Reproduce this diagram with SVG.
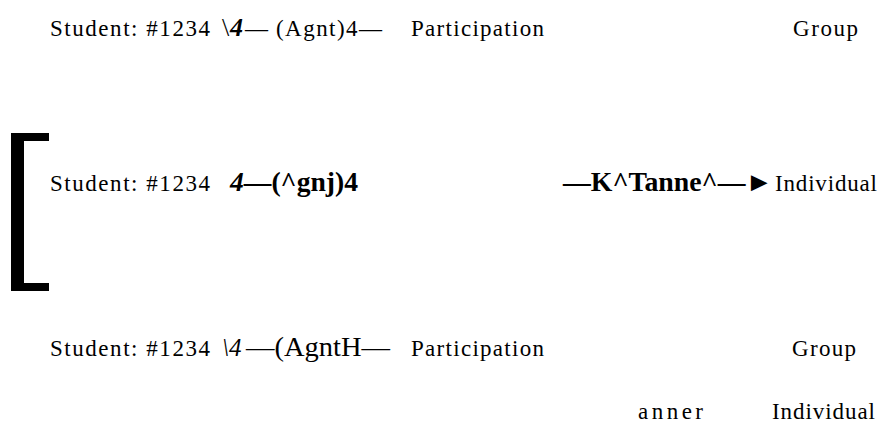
<svg xmlns="http://www.w3.org/2000/svg" width="880" height="431" viewBox="0 0 880 431">
<style>
text{font-family:"Liberation Serif","Times New Roman",serif;fill:#000;}
.t{font-size:23px;}
.big{font-size:28px;}
.b{font-weight:bold;}
.i{font-style:italic;}
</style>
<rect width="880" height="431" fill="#fff"/>
<g id="bracket">
<path d="M11,133 H49 V141 H24 V283 H49 V291 H11 Z" fill="#000"/>
</g>
<g id="row1">
<text class="t" x="50" y="36" textLength="160" lengthAdjust="spacing">Student: #1234</text>
<text x="222" y="36" font-size="26">\</text>
<text class="b i" x="230" y="36" font-size="26">4</text>
<text class="t" x="245" y="36" textLength="23" lengthAdjust="spacingAndGlyphs">—</text>
<text class="t" x="276" y="36" textLength="106" lengthAdjust="spacing">(Agnt)4—</text>
<text class="t" x="411" y="36" textLength="133" lengthAdjust="spacing">Participation</text>
<text class="t" x="793" y="36" textLength="65" lengthAdjust="spacing">Group</text>
</g>
<g id="row2">
<text class="t" x="50" y="191" textLength="160" lengthAdjust="spacing">Student: #1234</text>
<text class="b" x="230" y="191" font-size="27" textLength="128" lengthAdjust="spacingAndGlyphs"><tspan class="i">4</tspan>—(^gnj)4</text>
<text class="b" x="563" y="191" font-size="27" textLength="210" lengthAdjust="spacingAndGlyphs">—K^Tanne^—►</text>
<text class="t" x="775" y="191" textLength="102" lengthAdjust="spacing">Individual</text>
</g>
<g id="row3">
<text class="t" x="50" y="356" textLength="160" lengthAdjust="spacing">Student: #1234</text>
<text class="i" x="222" y="356" font-size="25">\4</text>
<text class="big" x="246" y="356" textLength="144" lengthAdjust="spacingAndGlyphs">—(AgntH—</text>
<text class="t" x="411" y="356" textLength="133" lengthAdjust="spacing">Participation</text>
<text class="t" x="792" y="356" textLength="64" lengthAdjust="spacing">Group</text>
</g>
<g id="row4">
<text class="t" x="638" y="419" textLength="65" lengthAdjust="spacing">anner</text>
<text class="t" x="772" y="419" textLength="103" lengthAdjust="spacing">Individual</text>
</g>
</svg>
